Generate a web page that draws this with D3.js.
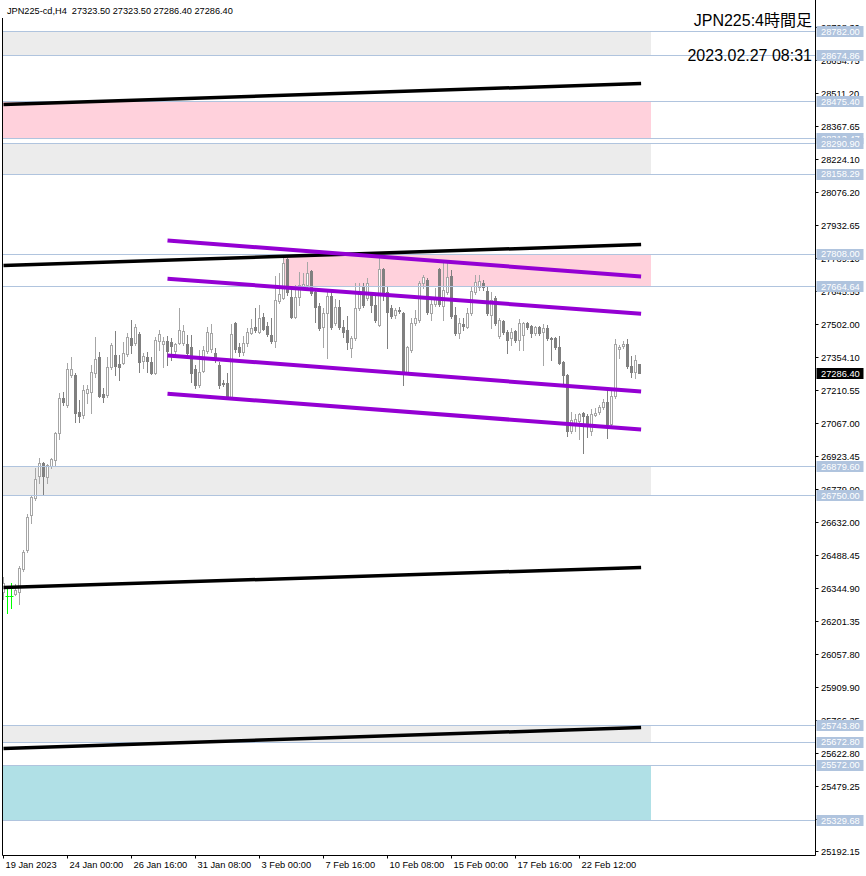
<!DOCTYPE html>
<html><head><meta charset="utf-8">
<script src="https://cdn.jsdelivr.net/npm/d3@7"></script>
<style>html,body{margin:0;padding:0;background:#fff;} svg{display:block;}</style>
</head><body><svg id="c" width="866" height="876"></svg>
<script>
// ---- data (H4 bars, index 0 = first visible bar) ----
const opens=[26327,26310,26310,26319,26327,26428,26511,26664,26739,26835,26892,26830,26879,26905,27023,27176,27146,27277,27277,27115,
27102,27198,27202,27286,27356,27194,27189,27312,27364,27325,27329,27369,27439,27417,27456,27338,27356,27334,27286,27426,
27412,27426,27421,27382,27417,27417,27412,27399,27303,27233,27294,27382,27391,27373,27321,27242,27242,27181,27504,27399,
27377,27417,27461,27487,27465,27531,27491,27452,27426,27601,27614,27784,27618,27531,27618,27666,27671,27732,27640,27579,
27487,27548,27622,27504,27574,27487,27474,27395,27439,27570,27666,27614,27627,27583,27496,27741,27640,27570,27539,27561,
27548,27290,27386,27504,27517,27679,27692,27548,27587,27741,27579,27640,27710,27539,27461,27500,27487,27548,27640,27662,
27679,27644,27539,27614,27447,27513,27465,27439,27469,27430,27452,27504,27491,27461,27487,27465,27482,27439,27439,27399,
27334,27277,27032,27067,27076,27111,27097,27032,27102,27115,27137,27159,27062,27185,27391,27404,27412,27316,27290,27323.5];
const highs=[26393,26349,26367,26362,26441,26511,26669,26752,26870,26914,26896,26887,26914,27027,27198,27202,27329,27356,27286,27167,
27233,27233,27321,27443,27377,27220,27356,27417,27469,27364,27421,27461,27517,27500,27465,27373,27377,27356,27443,27474,
27443,27447,27439,27417,27570,27496,27452,27452,27321,27386,27404,27487,27500,27395,27334,27255,27286,27500,27509,27417,
27447,27482,27522,27570,27583,27548,27509,27526,27710,27723,27789,27789,27649,27671,27727,27723,27771,27736,27649,27592,
27570,27653,27640,27609,27605,27517,27535,27447,27679,27679,27679,27701,27640,27636,27789,27745,27662,27583,27570,27574,
27552,27404,27526,27561,27688,27714,27701,27605,27657,27745,27767,27767,27736,27574,27526,27526,27570,27662,27714,27714,
27692,27662,27640,27622,27526,27517,27474,27482,27474,27522,27509,27509,27496,27491,27491,27500,27496,27443,27443,27447,
27338,27281,27115,27106,27111,27115,27106,27128,27132,27146,27172,27211,27211,27434,27408,27426,27434,27360,27364,27323.5];
const lows=[26297,26236,26257,26314,26275,26419,26502,26629,26730,26804,26752,26804,26870,26883,26997,27146,27137,27268,27071,27071,
27089,27154,27111,27268,27181,27159,27181,27303,27277,27255,27325,27360,27373,27408,27290,27307,27290,27281,27281,27386,
27312,27321,27342,27364,27412,27408,27360,27246,27220,27224,27290,27373,27377,27334,27220,27229,27176,27176,27377,27360,
27364,27404,27456,27465,27461,27474,27447,27417,27399,27592,27609,27627,27526,27526,27583,27653,27662,27627,27509,27474,
27399,27351,27478,27496,27478,27443,27391,27356,27430,27561,27574,27605,27552,27509,27491,27605,27395,27526,27526,27548,
27233,27281,27377,27496,27509,27657,27544,27517,27579,27579,27517,27631,27526,27452,27439,27474,27482,27539,27631,27649,
27649,27539,27482,27496,27439,27456,27373,27408,27421,27386,27386,27478,27443,27452,27452,27321,27430,27342,27391,27325,
27242,27010,27023,27032,26997,26936,27006,27014,27097,27106,27128,27001,27054,27176,27351,27395,27307,27268,27264,27286.4];
const closes=[26367,26310,26310,26336,26432,26502,26656,26743,26822,26892,26835,26883,26909,27023,27176,27159,27303,27303,27111,27097,
27211,27216,27290,27347,27185,27181,27312,27408,27316,27312,27373,27443,27408,27487,27334,27360,27338,27286,27430,27456,
27426,27382,27404,27412,27474,27469,27373,27286,27233,27290,27386,27465,27461,27342,27233,27237,27181,27456,27391,27377,
27417,27465,27482,27474,27526,27478,27456,27426,27605,27631,27767,27640,27531,27618,27671,27675,27723,27636,27574,27482,
27548,27622,27487,27574,27487,27465,27421,27439,27570,27640,27583,27679,27583,27517,27741,27640,27552,27535,27561,27557,
27290,27399,27504,27526,27679,27706,27552,27587,27618,27587,27649,27706,27535,27461,27504,27491,27548,27644,27684,27688,
27662,27548,27605,27504,27517,27465,27430,27465,27430,27504,27504,27487,27461,27487,27461,27482,27439,27434,27399,27329,
27277,27032,27080,27084,27106,27097,27062,27106,27111,27137,27159,27062,27185,27412,27399,27412,27316,27290,27342,27286.4];

const timeTickBars=[0,16,32,48,64,80,96,112,128,144];
const timeTickLabels=["19 Jan 2023","24 Jan 00:00","26 Jan 16:00","31 Jan 08:00","3 Feb 00:00","7 Feb 16:00","10 Feb 08:00","15 Feb 00:00","17 Feb 16:00","22 Feb 12:00"];
const priceTicks=[28798.30,28654.75,28511.20,28367.65,28224.10,28076.20,27932.65,27789.10,27645.55,27502.00,27354.10,27210.55,27067.00,26923.45,26779.90,26632.00,26488.45,26344.90,26201.35,26057.80,25909.90,25766.35,25622.80,25479.25,25335.70,25192.15];

const zoneTops=[28782.00,28475.40,28290.90,27808.00,26879.60,25743.80,25572.00];
const zoneBottoms=[28674.86,28313.47,28158.29,27664.64,26750.00,25672.80,25329.68];
const zoneKinds=["grey","pink","grey","pink","grey","grey","blue"];
const zoneStartBars=[0,0,0,70,0,0,0];
const zoneEndBar=161.75;

const blackStartBar=0, blackEndBar=159.4;
const blackStartPrices=[28462.6,27758.1,26349.2,25644.7];
const blackEndPrices=[28554.5,27850.0,26436.7,25736.6];
const purpleStartBar=41, purpleEndBar=159.4;
const purpleStartPrices=[27867.5,27699.9,27364.3,27196.7];
const purpleEndPrices=[27710.0,27546.8,27206.8,27040.5];

const lastPrice=27286.40;
const headerText="JPN225-cd,H4  27323.50 27323.50 27286.40 27286.40";
const titleText="JPN225:4時間足";
const dateText="2023.02.27 08:31";

// ---- drawing ----
const svg=d3.select("#c");
const W=866,H=876, plotL=2.5, plotR=815.5, plotB=855.5;
const x=d3.scaleLinear().domain([0,159]).range([3.5,639.5]);
const y=d3.scaleLinear().domain([25329.68,28782.00]).range([820.5,31.5]);
const py=p=>Math.round(y(p)-0.5)+0.5;
const zoneFill={grey:"#ececec",pink:"#ffd1dc",blue:"#b0e0e6"};
const FONT="'Liberation Sans', Arial, 'Noto Sans CJK JP', sans-serif";

svg.append("rect").attr("width",W).attr("height",H).attr("fill","#fff");
svg.append("defs").append("clipPath").attr("id","plot").append("rect")
  .attr("x",3).attr("y",0).attr("width",plotR-3).attr("height",plotB);
const g=svg.append("g").attr("clip-path","url(#plot)");

// zones
const zones=zoneTops.map((t,i)=>({t,b:zoneBottoms[i],k:zoneKinds[i],s:zoneStartBars[i]}));
g.selectAll("rect.zone").data(zones).join("rect").attr("class","zone")
  .attr("x",d=>d.s===0?3:Math.round(x(d.s)-0.5))
  .attr("width",d=>Math.round(x(zoneEndBar))-(d.s===0?3:Math.round(x(d.s)-0.5)))
  .attr("y",d=>Math.round(y(d.t)-0.5)).attr("height",d=>Math.round(y(d.b)-0.5)-Math.round(y(d.t)-0.5))
  .attr("fill",d=>zoneFill[d.k]);

// candles
const bars=opens.map((o,i)=>({i,o,h:highs[i],l:lows[i],c:closes[i]}));
const cg=g.append("g");
bars.forEach(d=>{
  const cx=x(d.i);
  const doji=d.o===d.c;
  const bull=d.c>d.o;
  const col=doji?"#00ff00":(bull?"#a6a6a6":"#808080");
  cg.append("line").attr("x1",cx).attr("x2",cx).attr("y1",py(d.h)-0.5).attr("y2",py(d.l)+0.5)
    .attr("stroke",col).attr("stroke-width",1);
  if(doji){
    cg.append("line").attr("x1",cx-2).attr("x2",cx+2).attr("y1",py(d.o)).attr("y2",py(d.o))
      .attr("stroke",col).attr("stroke-width",1);
  } else if(bull){
    const t=py(d.c), b=py(d.o);
    cg.append("rect").attr("x",cx-1).attr("width",2).attr("y",t).attr("height",Math.max(b-t,0.01))
      .attr("fill","#fff").attr("stroke",col).attr("stroke-width",1);
  } else {
    const t=py(d.o), b=py(d.c);
    cg.append("rect").attr("x",cx-1.5).attr("width",3).attr("y",t-0.5).attr("height",b-t+1)
      .attr("fill",col);
  }
});

// level lines
const levels=[];
zones.forEach(z=>{levels.push(z.t);levels.push(z.b);});
g.selectAll("line.lvl").data(levels).join("line").attr("class","lvl")
  .attr("x1",3).attr("x2",plotR).attr("y1",d=>py(d)).attr("y2",d=>py(d))
  .attr("stroke","#b0c4de").attr("stroke-width",1);

// trend lines
const lineGen=d3.line().x(d=>x(d[0])).y(d=>y(d[1]));
blackStartPrices.forEach((p,i)=>{
  g.append("path").attr("d",lineGen([[blackStartBar,p],[blackEndBar,blackEndPrices[i]]]))
   .attr("stroke","#000").attr("stroke-width",3.5).attr("fill","none");
});
purpleStartPrices.forEach((p,i)=>{
  g.append("path").attr("d",lineGen([[purpleStartBar,p],[purpleEndBar,purpleEndPrices[i]]]))
   .attr("stroke","#9400d3").attr("stroke-width",4).attr("fill","none");
});

// frame
svg.append("path").attr("d",`M${plotL},0V${plotB}H${plotR}V0`).attr("fill","none").attr("stroke","#000").attr("stroke-width",1);

// price axis
const pa=svg.append("g");
priceTicks.forEach(p=>{
  const yy=py(p);
  pa.append("line").attr("x1",plotR).attr("x2",plotR+3).attr("y1",yy).attr("y2",yy).attr("stroke","#000");
  pa.append("text").attr("x",821).attr("y",yy).attr("dy","0.35em").attr("font-family",FONT)
    .attr("font-size",9.3).attr("fill","#000").text(p.toFixed(2));
});
// level label boxes
levels.slice().sort((a,b)=>b-a).forEach(p=>{
  const yy=y(p);
  pa.append("rect").attr("x",816.5).attr("y",Math.round(yy-5.5)).attr("width",47).attr("height",11).attr("fill","#b0c4de");
  pa.append("text").attr("x",821).attr("y",yy).attr("dy","0.35em").attr("font-family",FONT)
    .attr("font-size",9.3).attr("fill","#fff").text(p.toFixed(2));
});
// current price label
{
  const yy=y(lastPrice);
  pa.append("rect").attr("x",816.5).attr("y",Math.round(yy-5.5)).attr("width",47).attr("height",11).attr("fill","#000");
  pa.append("text").attr("x",821).attr("y",yy).attr("dy","0.35em").attr("font-family",FONT)
    .attr("font-size",9.3).attr("fill","#fff").text(lastPrice.toFixed(2));
}

// time axis
const ta=svg.append("g");
timeTickBars.forEach((b,i)=>{
  const xx=Math.round(x(b)-0.5)+0.5;
  ta.append("line").attr("x1",xx).attr("x2",xx).attr("y1",plotB).attr("y2",plotB+3).attr("stroke","#000");
  ta.append("text").attr("x",xx+2).attr("y",868).attr("font-family",FONT).attr("font-size",9.3)
    .attr("fill","#000").text(timeTickLabels[i]);
});

// header texts
svg.append("rect").attr("x",0).attr("y",0).attr("width",240).attr("height",18).attr("fill","#fff");
svg.append("text").attr("x",7).attr("y",14).attr("font-family",FONT).attr("font-size",9.2)
  .attr("fill","#000").attr("xml:space","preserve").style("white-space","pre").text(headerText);
svg.append("text").attr("x",812).attr("y",26).attr("text-anchor","end").attr("font-family",FONT)
  .attr("font-size",16).attr("fill","#000").text(titleText);
svg.append("text").attr("x",812).attr("y",61).attr("text-anchor","end").attr("font-family",FONT)
  .attr("font-size",16).attr("fill","#000").text(dateText);
</script></body></html>
